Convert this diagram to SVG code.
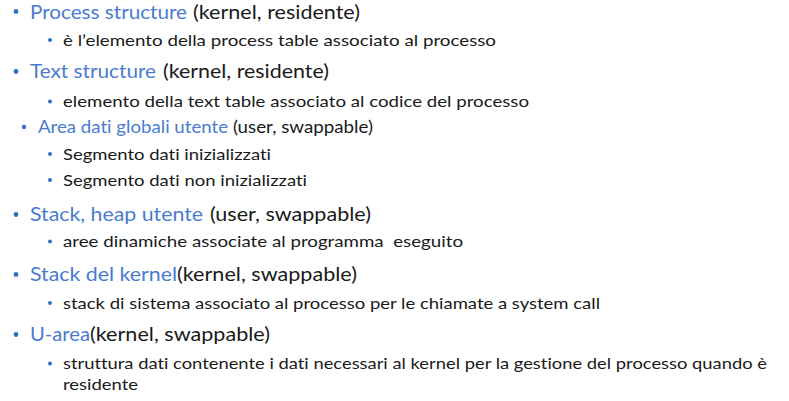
<svg xmlns="http://www.w3.org/2000/svg" width="789" height="401" viewBox="0 0 789 401">
<style>
text{font-family:Lato,"Noto Sans","Liberation Sans",sans-serif;font-weight:400;font-variant-ligatures:none;fill:#1a1a1a}
.b{fill:#4a7bcf}
.l1{font-size:19px}
.l2{font-size:16px}
.la{font-size:17px}
.d{fill:#2f72c6}
</style>
<rect width="789" height="401" fill="#ffffff"/>
<g id="item-process">
<circle class="d" cx="16" cy="11.5" r="2.4"/>
<text class="l1 b" x="30" y="18.8" textLength="157" lengthAdjust="spacingAndGlyphs">Process structure</text>
<text class="l1" x="193" y="18.8" textLength="167" lengthAdjust="spacingAndGlyphs">(kernel, residente)</text>
<circle class="d" cx="50" cy="40" r="2"/>
<text class="l2" x="63" y="45.5" textLength="433" lengthAdjust="spacingAndGlyphs">è l’elemento della process table associato al processo</text>
</g>
<g id="item-text">
<circle class="d" cx="16" cy="71.5" r="2.4"/>
<text class="l1 b" x="30" y="78" textLength="126" lengthAdjust="spacingAndGlyphs">Text structure</text>
<text class="l1" x="163" y="78" textLength="166" lengthAdjust="spacingAndGlyphs">(kernel, residente)</text>
<circle class="d" cx="50" cy="101.5" r="2"/>
<text class="l2" x="63" y="107" textLength="466" lengthAdjust="spacingAndGlyphs">elemento della text table associato al codice del processo</text>
</g>
<g id="item-area">
<circle class="d" cx="24" cy="127" r="2.2"/>
<text class="la b" x="38" y="132.5" textLength="190" lengthAdjust="spacingAndGlyphs">Area dati globali utente</text>
<text class="la" x="233" y="132.5" textLength="140" lengthAdjust="spacingAndGlyphs">(user, swappable)</text>
<circle class="d" cx="50" cy="154" r="2"/>
<text class="l2" x="63" y="159.5" textLength="208" lengthAdjust="spacingAndGlyphs">Segmento dati inizializzati</text>
<circle class="d" cx="50" cy="180" r="2"/>
<text class="l2" x="63" y="185.5" textLength="244" lengthAdjust="spacingAndGlyphs">Segmento dati non inizializzati</text>
</g>
<g id="item-stackheap">
<circle class="d" cx="16" cy="214.5" r="2.4"/>
<text class="l1 b" x="30" y="221" textLength="173" lengthAdjust="spacingAndGlyphs">Stack, heap utente</text>
<text class="l1" x="210" y="221" textLength="161" lengthAdjust="spacingAndGlyphs">(user, swappable)</text>
<circle class="d" cx="50" cy="241.5" r="2"/>
<text class="l2" x="63" y="247" textLength="400" lengthAdjust="spacingAndGlyphs" xml:space="preserve">aree dinamiche associate al programma  eseguito</text>
</g>
<g id="item-kstack">
<circle class="d" cx="16" cy="274.5" r="2.4"/>
<text class="l1 b" x="30" y="281" textLength="147" lengthAdjust="spacingAndGlyphs">Stack del kernel</text>
<text class="l1" x="177" y="281" textLength="180" lengthAdjust="spacingAndGlyphs">(kernel, swappable)</text>
<circle class="d" cx="50" cy="303" r="2"/>
<text class="l2" x="63" y="308.5" textLength="537" lengthAdjust="spacingAndGlyphs">stack di sistema associato al processo per le chiamate a system call</text>
</g>
<g id="item-uarea">
<circle class="d" cx="16" cy="334.5" r="2.4"/>
<text class="l1 b" x="30" y="341" textLength="60" lengthAdjust="spacingAndGlyphs">U-area</text>
<text class="l1" x="90" y="341" textLength="180" lengthAdjust="spacingAndGlyphs">(kernel, swappable)</text>
<circle class="d" cx="50" cy="363.5" r="2"/>
<text class="l2" x="63" y="369" textLength="704" lengthAdjust="spacingAndGlyphs">struttura dati contenente i dati necessari al kernel per la gestione del processo quando è</text>
<text class="l2" x="63" y="389.5" textLength="75" lengthAdjust="spacingAndGlyphs">residente</text>
</g>
<g id="connectors"/>
</svg>
